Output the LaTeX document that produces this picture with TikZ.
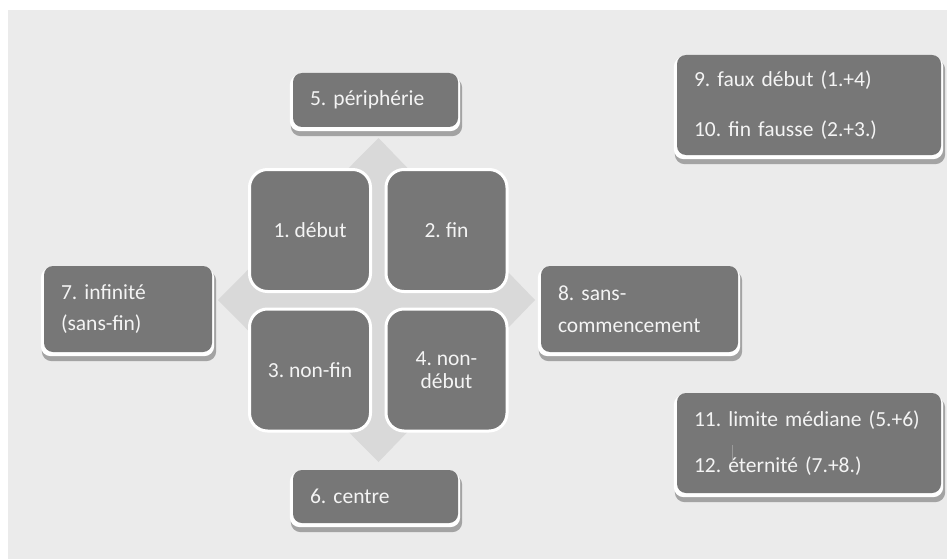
\documentclass[tikz,border=0pt]{standalone}
\usepackage{fontspec}
\setmainfont{Carlito}
\frenchspacing
\usetikzlibrary{backgrounds,calc}
\definecolor{bgc}{HTML}{EBEBEB}
\definecolor{boxc}{HTML}{777777}
\definecolor{arrc}{HTML}{D9D9D9}
\definecolor{txtc}{HTML}{F4F4F4}
\definecolor{shdc}{HTML}{A3A3A3}
\definecolor{curc}{HTML}{9A9A9A}
\begin{document}
\begin{tikzpicture}[x=1pt,y=-1pt,
  cell/.style={draw=white, line width=3pt, fill=boxc, rounded corners=18pt,
    minimum width=121pt, minimum height=122pt, text=txtc, align=center,
    font=\fontsize{21.5}{23}\selectfont, inner sep=0pt},
  outer/.style={fill=boxc, rounded corners=9pt, text=txtc, align=left,
    font=\fontsize{21.5}{26}\selectfont, inner xsep=17pt, inner ysep=0pt},
  shadowdark/.style={fill=shdc, rounded corners=10pt},
  shadowlight/.style={fill=white, rounded corners=10pt}]
\useasboundingbox (0,0) rectangle (947,559);
\begin{pgfonlayer}{background}
\fill[white] (0,0) rectangle (947,559);
\fill[bgc] (8,10) rectangle (947,559);
% plus-shaped arrow background
\fill[arrc] (378.5,138) -- (535,300) -- (378.5,462) -- (218,300) -- cycle;
\end{pgfonlayer}
% centre cells
\node[cell] (c1) at (310,230.5) {1. début};
\node[cell] (c2) at (446.5,230.5) {2. fin};
\node[cell] (c3) at (310,370) {3. non-fin};
\node[cell] (c4) at (446.5,370) {4. non-\\début};
% outer boxes
\node[outer, text width=131pt, minimum height=54pt] (n5) at (375.5,100) {\mbox{5. périphérie}};
\node[outer, text width=131pt, minimum height=53pt] (n6) at (375.5,496.5) {\mbox{6. centre}};
\node[outer, text width=134pt, minimum height=86pt] (n7) at (128,309) {\mbox{7. infinité}\\[5pt](sans-fin)};
\node[outer, text width=163pt, minimum height=86pt] (n8) at (639.5,309) {\mbox{8. sans-}\\[6pt]commencement};
\node[outer, text width=230pt, minimum height=100pt] (n9) at (809,105) {\mbox{9. faux début (1.+4)}\\[24pt]\mbox{10. fin fausse (2.+3.)}};
\node[outer, text width=230pt, minimum height=100pt] (n11) at (809,443) {\mbox{11. limite médiane (5.+6)}\\[20pt]\mbox{12. éternité (7.+8.)}};
\draw[curc, line width=0.8pt] ($(n11.west)+(56,2)$) -- ++(0,17);
% bevel shadows
\begin{pgfonlayer}{background}
\foreach \n in {n5,n6,n7,n8,n9,n11}{
  \fill[shadowdark] ($(\n.north west)+(-2,5)$) rectangle ($(\n.south east)+(4,9)$);
  \fill[shadowlight] ($(\n.north west)+(-3,2)$) rectangle ($(\n.south east)+(2,4)$);
}
\end{pgfonlayer}
\end{tikzpicture}
\end{document}
